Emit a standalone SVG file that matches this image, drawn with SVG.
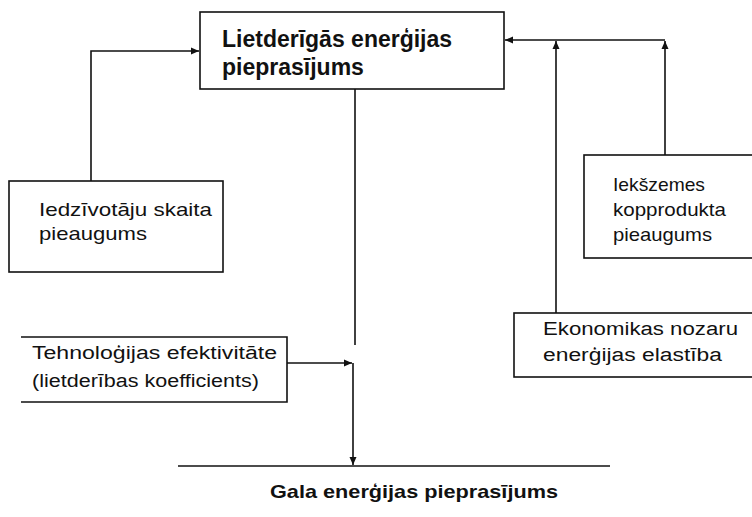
<svg xmlns="http://www.w3.org/2000/svg" width="752" height="517" viewBox="0 0 752 517">
  <style>
    .box { fill: #fff; stroke: #111; stroke-width: 1.6; }
    .edge { fill: none; stroke: #111; stroke-width: 1.6; }
    .title { font-family: "Liberation Sans", Arial, sans-serif; font-weight: bold; font-size: 23px; fill: #111; }
    .lbl { font-family: "Liberation Sans", Arial, sans-serif; font-size: 18px; fill: #111; }
    .big { font-size: 19px; }
    .foot { font-family: "Liberation Sans", Arial, sans-serif; font-weight: bold; font-size: 19px; fill: #111; }
  </style>
  <defs>
    <marker id="arrow" markerUnits="userSpaceOnUse" markerWidth="10" markerHeight="10" refX="8" refY="4" orient="auto">
      <path d="M0,0.5 L8,4 L0,7.5 Z" fill="#111"/>
    </marker>
  </defs>

  <!-- connectors -->
  <g id="connectors">
    <!-- population growth -> useful energy demand -->
    <path class="edge" d="M91,181 V51 H199" marker-end="url(#arrow)"/>
    <!-- GDP growth -> useful energy demand -->
    <path class="edge" d="M665,155 V41" marker-end="url(#arrow)"/>
    <path class="edge" d="M665,40 H505" marker-end="url(#arrow)"/>
    <!-- sector elasticity -> demand line -->
    <path class="edge" d="M556,313 V41" marker-end="url(#arrow)"/>
    <!-- useful demand down to efficiency junction -->
    <path class="edge" d="M355,89 V345"/>
    <!-- technology efficiency -> junction -->
    <path class="edge" d="M287,363 H352" marker-end="url(#arrow)"/>
    <!-- junction -> final energy demand -->
    <path class="edge" d="M353,363 V465" marker-end="url(#arrow)"/>
    <path class="edge" d="M178,466 H610"/>
  </g>

  <g id="useful-demand">
    <rect class="box" x="200" y="12" width="304" height="77"/>
    <text class="title" x="222" y="47">Lietderīgās enerģijas</text>
    <text class="title" x="222" y="75">pieprasījums</text>
  </g>

  <g id="population">
    <rect class="box" x="9" y="181" width="214" height="91"/>
    <text class="lbl big" x="39" y="216" textLength="173" lengthAdjust="spacingAndGlyphs">Iedzīvotāju skaita</text>
    <text class="lbl big" x="39" y="240" textLength="108" lengthAdjust="spacingAndGlyphs">pieaugums</text>
  </g>

  <g id="gdp">
    <rect class="box" x="584" y="155" width="180" height="103"/>
    <text class="lbl big" x="613" y="191" textLength="92" lengthAdjust="spacingAndGlyphs">Iekšzemes</text>
    <text class="lbl big" x="613" y="216" textLength="113" lengthAdjust="spacingAndGlyphs">kopprodukta</text>
    <text class="lbl big" x="613" y="241" textLength="99" lengthAdjust="spacingAndGlyphs">pieaugums</text>
  </g>

  <g id="elasticity">
    <rect class="box" x="514" y="313" width="250" height="64"/>
    <text class="lbl" x="543" y="335" textLength="195" lengthAdjust="spacingAndGlyphs">Ekonomikas nozaru</text>
    <text class="lbl" x="543" y="361" textLength="179" lengthAdjust="spacingAndGlyphs">enerģijas elastība</text>
  </g>

  <g id="technology">
    <path class="box" d="M21,337 H287 V402 H21"/>
    <text class="lbl" x="32" y="359" textLength="245" lengthAdjust="spacingAndGlyphs">Tehnoloģijas efektivitāte</text>
    <text class="lbl" x="32" y="387" textLength="227" lengthAdjust="spacingAndGlyphs">(lietderības koefficients)</text>
  </g>

  <g id="final-demand">
    <text class="foot" x="270" y="498" textLength="288" lengthAdjust="spacingAndGlyphs">Gala enerģijas pieprasījums</text>
  </g>
</svg>
